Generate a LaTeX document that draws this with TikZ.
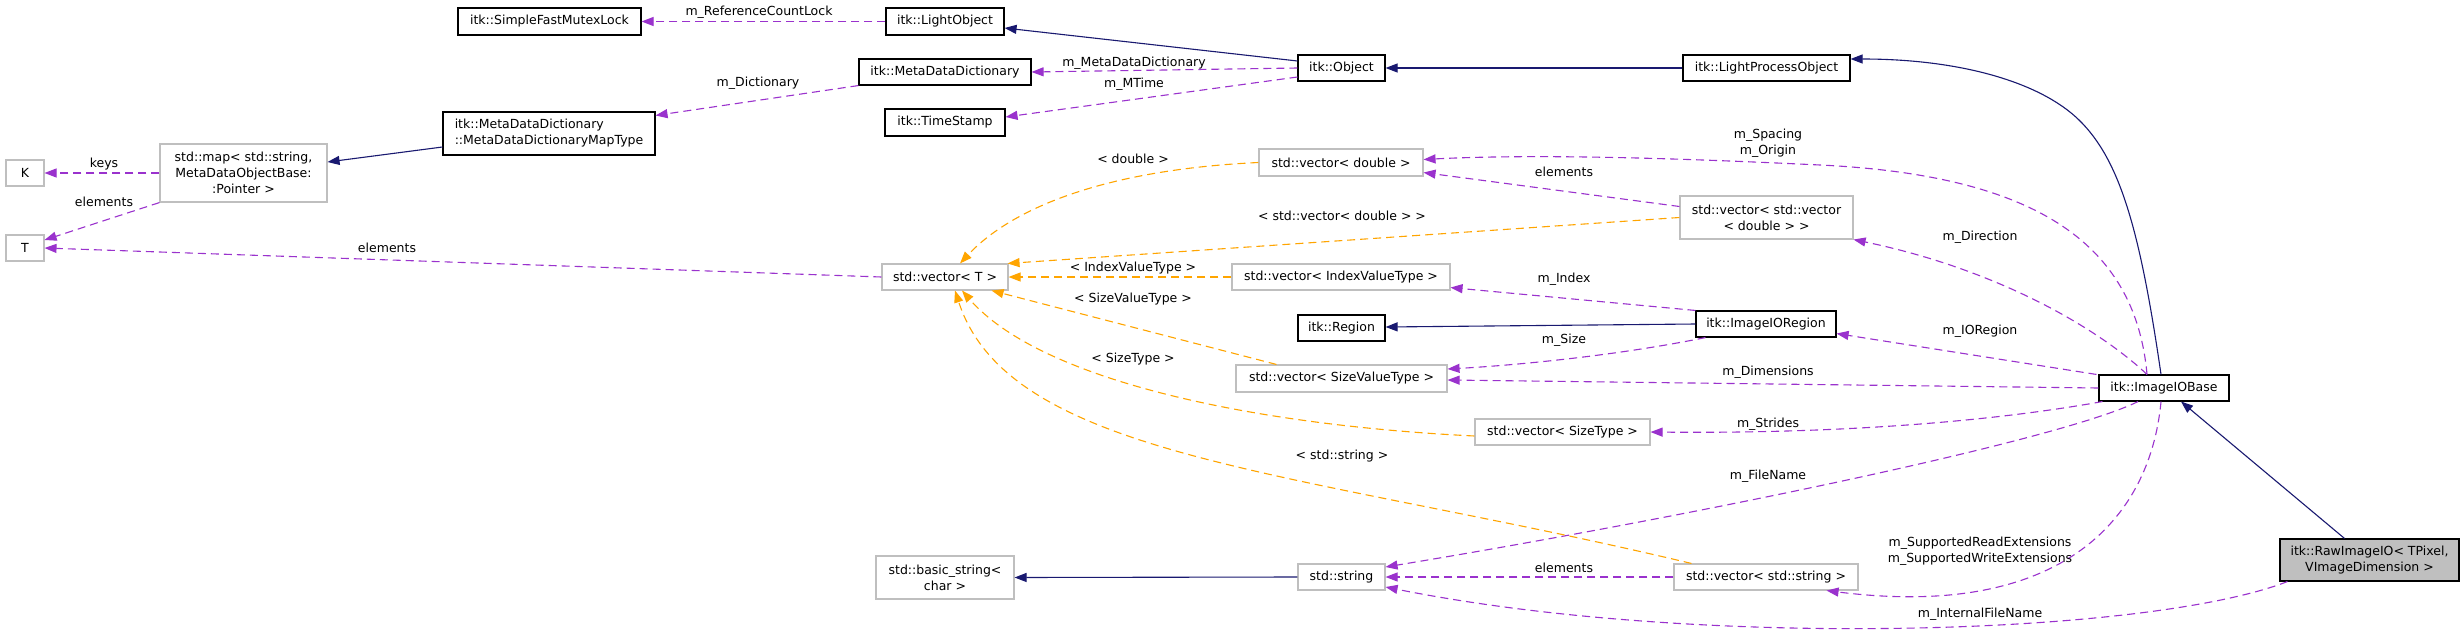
\documentclass[tikz,border=0pt]{standalone}
\usepackage{fontspec}
\setmainfont{DejaVu Sans}
\usetikzlibrary{arrows.meta}
\definecolor{navy}{HTML}{191970}
\definecolor{purp}{HTML}{9A32CD}
\definecolor{orng}{HTML}{FFA500}
\definecolor{gbord}{HTML}{BFBFBF}
\definecolor{rawfill}{HTML}{BFBFBF}
\begin{document}
\begin{tikzpicture}[x=1pt,y=-1pt,
  font=\fontsize{12.5}{16}\selectfont,
  box/.style={draw=black, line width=1.1pt, fill=white, inner sep=0pt, align=center},
  gbox/.style={draw=gbord, line width=1.1pt, fill=white, inner sep=0pt, align=center},
  inh/.style={draw=navy, line width=1.1pt, -{Triangle[length=12pt,width=9pt]}},
  use/.style={draw=purp, line width=1.1pt, dash pattern=on 8pt off 5pt, -{Triangle[length=12pt,width=9pt]}},
  tpl/.style={draw=orng, line width=1.1pt, dash pattern=on 8pt off 5pt, -{Triangle[length=12pt,width=9pt]}},
  lbl/.style={inner sep=0pt, align=center}
]
\fill[white] (0,0) rectangle (2464,637);
\useasboundingbox (0,0) rectangle (2464,637);

% nodes
\node[box, minimum width=183pt, minimum height=27pt] (mutex) at (549.5,21.5) {itk::SimpleFastMutexLock};
\node[box, minimum width=118pt, minimum height=27pt] (lightobj) at (945,21.5) {itk::LightObject};
\node[box, minimum width=172pt, minimum height=26pt] (mdd) at (945,72) {itk::MetaDataDictionary};
\node[box, minimum width=120pt, minimum height=27pt] (timestamp) at (945,122.5) {itk::TimeStamp};
\node[box, minimum width=212pt, minimum height=43pt, align=left] (maptype) at (549,133.5) {itk::MetaDataDictionary\\::MetaDataDictionaryMapType};
\node[gbox, minimum width=167pt, minimum height=58pt] (stdmap) at (243.5,173) {std::map< std::string,\\ MetaDataObjectBase:\\:Pointer >};
\node[gbox, minimum width=38pt, minimum height=26pt] (K) at (25,173) {K};
\node[gbox, minimum width=38pt, minimum height=26pt] (T) at (25,248) {T};
\node[box, minimum width=87pt, minimum height=26pt] (object) at (1341.5,68) {itk::Object};
\node[box, minimum width=167pt, minimum height=26pt] (lpo) at (1766.5,68) {itk::LightProcessObject};
\node[gbox, minimum width=164pt, minimum height=27pt] (vdouble) at (1341,162.5) {std::vector< double >};
\node[gbox, minimum width=173pt, minimum height=43pt] (vvector) at (1766.5,217.5) {std::vector< std::vector\\< double > >};
\node[gbox, minimum width=126pt, minimum height=26pt] (vT) at (945,277) {std::vector< T >};
\node[gbox, minimum width=218pt, minimum height=26pt] (vindex) at (1341,277) {std::vector< IndexValueType >};
\node[box, minimum width=87pt, minimum height=26pt] (region) at (1341.5,328) {itk::Region};
\node[box, minimum width=140pt, minimum height=26pt] (ioregion) at (1766,324) {itk::ImageIORegion};
\node[gbox, minimum width=211pt, minimum height=27pt] (vsizevalue) at (1341.5,378.5) {std::vector< SizeValueType >};
\node[box, minimum width=130pt, minimum height=26pt] (iobase) at (2164,388) {itk::ImageIOBase};
\node[gbox, minimum width=175pt, minimum height=26pt] (vsizetype) at (1562.5,432) {std::vector< SizeType >};
\node[gbox, minimum width=138pt, minimum height=43pt] (basicstring) at (945,577.5) {std::basic\_string<\\char >};
\node[gbox, minimum width=87pt, minimum height=26pt] (stdstring) at (1341.5,577) {std::string};
\node[gbox, minimum width=184pt, minimum height=26pt] (vstring) at (1766,577) {std::vector< std::string >};
\node[box, fill=rawfill, minimum width=179pt, minimum height=42pt] (raw) at (2369.5,560) {itk::RawImageIO< TPixel,\\ VImageDimension >};

% inheritance
\draw[inh] ([yshift=7pt]object.west) -- ([yshift=-6.5pt]lightobj.east);
\draw[inh] (lpo.west) -- (object.east);
\draw[inh] ([yshift=-13.5pt]maptype.west) -- ([yshift=11pt]stdmap.east);
\draw[inh] (ioregion.west) -- ([yshift=1pt]region.east);
\draw[inh] (stdstring.west) -- (basicstring.east);
\draw[inh] ([xshift=-25pt]raw.north) -- ([xshift=17pt]iobase.south);
\draw[inh] ([xshift=-3pt]iobase.north) .. controls (2140,230) and (2120,160) .. (2079,120)
  .. controls (2040,82) and (1960,59) .. ([yshift=9pt]lpo.east);

% usage
\draw[use] (lightobj.west) -- (mutex.east);
\draw[use] (object.west) -- (mdd.east);
\draw[use] ([yshift=-9pt]object.west) -- ([yshift=5.5pt]timestamp.east);
\draw[use] (mdd.south west) -- ([yshift=-4pt]maptype.north east);
\draw[use] (stdmap.west) -- (K.east);
\draw[use] (stdmap.south west) -- ([yshift=8pt]T.east);
\draw[use] (vT.west) -- (T.east);
\draw[use] ([xshift=-17pt]iobase.north) .. controls (2135,240) and (2030,175) .. (1820,165)
  .. controls (1715,160) and (1550,153) .. ([yshift=3pt]vdouble.east);
\draw[use] ([xshift=-17pt]iobase.north) .. controls (2100,330) and (2000,270) .. (vvector.south east);
\draw[use] ([yshift=11pt]vvector.west) -- ([yshift=4pt]vdouble.south east);
\draw[use] (ioregion.north west) -- ([yshift=3pt]vindex.south east);
\draw[use] ([xshift=10pt]ioregion.south west) .. controls (1620,355) and (1520,365) .. ([yshift=9.5pt]vsizevalue.east);
\draw[use] ([xshift=-2pt]iobase.north west) -- ([yshift=4pt]ioregion.south east);
\draw[use] (iobase.west) -- ([yshift=-1.5pt]vsizevalue.east);
\draw[use] ([xshift=4pt]iobase.south west) .. controls (2000,420) and (1850,434) .. (vsizetype.east);
\draw[use] ([xshift=-26pt]iobase.south) .. controls (2060,440) and (1700,515) .. ([yshift=10pt]stdstring.east);
\draw[use] ([xshift=-3pt]iobase.south) .. controls (2150,520) and (2060,620) .. ([xshift=-32pt]vstring.south east);
\draw[use] ([xshift=8pt]raw.south west) .. controls (2150,635) and (1700,650) .. ([yshift=-10pt]stdstring.east);
\draw[use] (vstring.west) -- (stdstring.east);

% template instances
\draw[tpl] (vvector.west) -- ([xshift=-1pt]vT.north east);
\draw[tpl] (vdouble.west) .. controls (1100,170) and (1010,210) .. ([xshift=15pt]vT.north);
\draw[tpl] (vindex.west) -- (vT.east);
\draw[tpl] ([xshift=41pt]vsizevalue.north west) -- ([xshift=-17pt]vT.south east);
\draw[tpl] ([yshift=-4pt]vsizetype.west) .. controls (1250,425) and (1040,380) .. ([xshift=17pt]vT.south);
\draw[tpl] ([xshift=18pt]vstring.north west) .. controls (1300,470) and (1010,460) .. ([xshift=10pt]vT.south);

% labels
\node[lbl] (l1) at (759,12) {m\_ReferenceCountLock};
\node[lbl] (l2) at (758,83) {m\_Dictionary};
\node[lbl] (l3) at (1134,63) {m\_MetaDataDictionary};
\node[lbl] (l4) at (1134,84) {m\_MTime};
\node[lbl] (l5) at (104,164) {keys};
\node[lbl] (l6) at (104,202) {elements};
\node[lbl] (l7) at (387,248) {elements};
\node[lbl] (l8) at (1133,159) {< double >};
\node[lbl] (l9) at (1342,216) {< std::vector< double > >};
\node[lbl] (l10) at (1133,268) {< IndexValueType >};
\node[lbl] (l11) at (1133,299) {< SizeValueType >};
\node[lbl] (l12) at (1133,359) {< SizeType >};
\node[lbl] (l13) at (1342,456) {< std::string >};
\node[lbl] (l14) at (1768,143) {m\_Spacing\\m\_Origin};
\node[lbl] (l15) at (1564,172) {elements};
\node[lbl] (l16) at (1980,237) {m\_Direction};
\node[lbl] (l17) at (1564,279) {m\_Index};
\node[lbl] (l18) at (1564,340) {m\_Size};
\node[lbl] (l19) at (1980,331) {m\_IORegion};
\node[lbl] (l20) at (1768,372) {m\_Dimensions};
\node[lbl] (l21) at (1768,424) {m\_Strides};
\node[lbl] (l22) at (1768,476) {m\_FileName};
\node[lbl] (l23) at (1564,568) {elements};
\node[lbl] (l24) at (1980,551) {m\_SupportedReadExtensions\\m\_SupportedWriteExtensions};
\node[lbl] (l25) at (1980,614) {m\_InternalFileName};
\end{tikzpicture}
\end{document}
